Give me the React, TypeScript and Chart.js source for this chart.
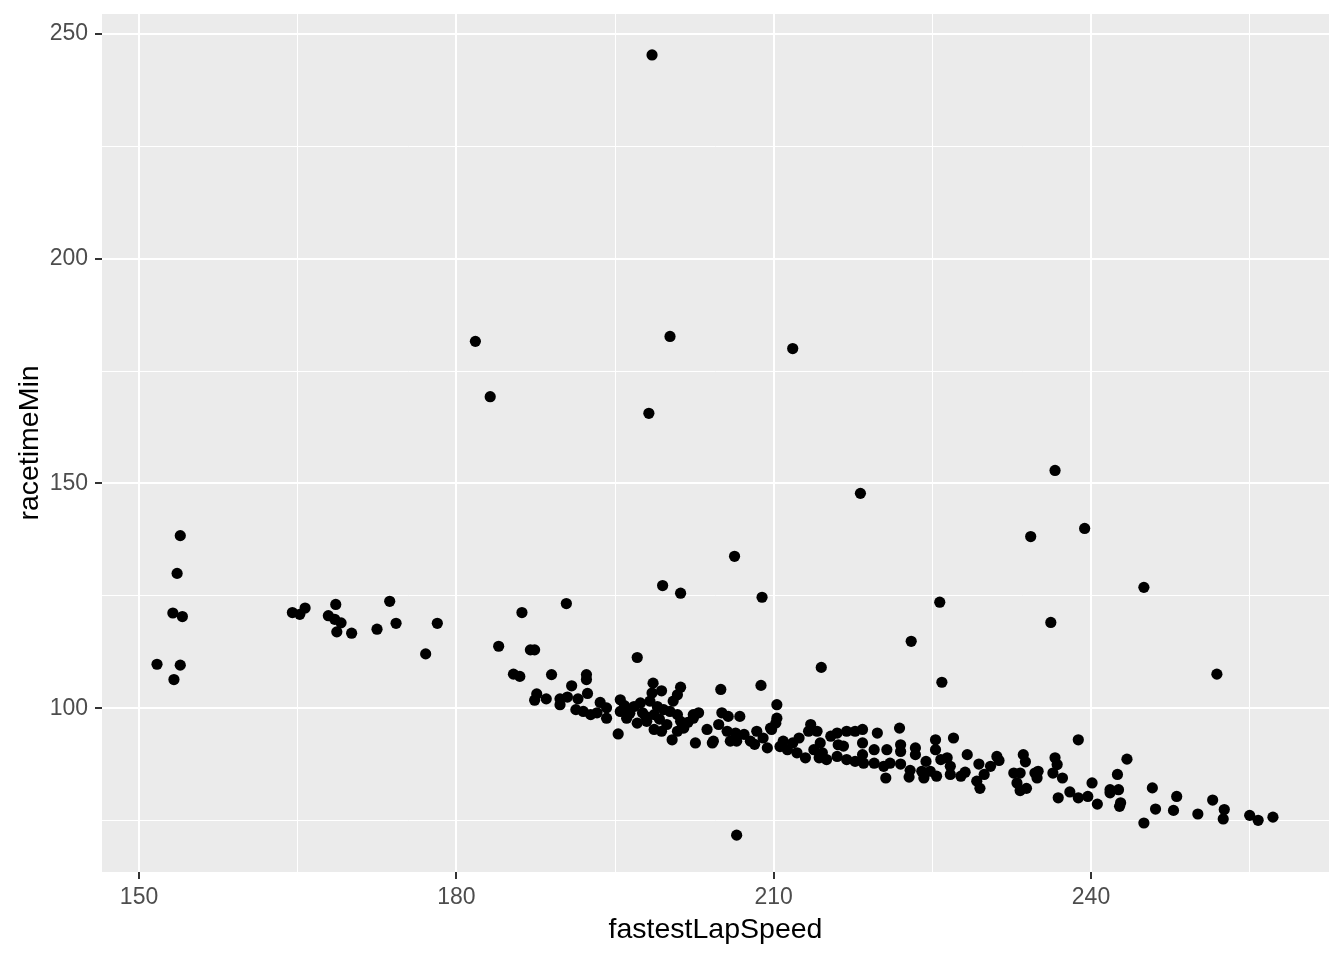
import React, { useEffect, useRef } from "react";
import { Chart, registerables } from "chart.js";

Chart.register(...registerables);

// fastestLapSpeed values
const lapSpeed: number[] = [
  198.5, 181.8, 183.2, 200.2, 198.2, 211.8, 218.2, 236.6, 234.3, 239.4,
  245.0, 251.9, 236.2, 225.7, 223.0, 225.9, 214.5, 206.3, 208.9, 199.5,
  201.2, 208.8, 206.5, 197.1, 190.4, 186.2, 184.0,
  153.9, 153.6, 153.2, 154.1, 151.7, 153.9, 153.3,
  164.5, 165.2, 165.7, 168.6, 167.9, 168.5, 169.1, 168.7, 170.1, 172.5,
  173.7, 174.3, 178.2, 177.1,
  187.0, 187.4, 185.4, 186.0, 189.0, 192.3, 192.3, 190.9, 192.4, 187.6,
  187.4, 188.5, 189.8, 189.8, 190.5, 191.5, 191.3, 192.0, 192.7, 193.6,
  194.2, 194.2, 193.3, 195.5, 195.3, 195.5, 196.1, 196.8, 197.4, 197.6,
  198.0, 197.1, 198.6, 198.5, 199.4, 198.3, 199.0, 198.7, 199.6, 198.7,
  199.4, 200.4, 201.2, 200.9, 200.5, 200.2, 200.9, 201.2, 201.5, 200.9,
  199.9, 196.4, 197.9, 199.2, 201.9, 195.9,
  202.4, 202.9, 203.7, 202.6, 204.3, 205.0, 205.1, 205.7, 206.8, 204.8,
  205.6, 206.4, 207.2, 205.9, 206.5, 207.8, 208.4, 209.0, 209.4, 209.8,
  210.3, 210.3,
  202.4, 210.2, 209.7, 204.2, 210.9, 211.8, 212.4, 211.3, 212.2, 213.0,
  213.5, 213.3, 214.1, 214.4, 213.8, 214.6, 214.3, 215.0, 215.4, 216.0,
  216.1, 216.6, 216.0, 216.9, 217.7, 218.4, 218.4, 216.9, 217.7, 218.4,
  218.5, 219.8, 219.5, 220.7, 219.5, 220.4, 220.6, 208.2, 210.6,
  221.9, 222.0, 222.0, 223.4, 223.4, 225.3, 225.3, 227.0, 221.0, 222.0,
  222.9, 222.8, 224.0, 224.4, 224.2, 224.8, 225.4, 225.8, 226.4, 226.7,
  226.7, 227.7, 228.1, 228.3, 229.4, 229.9, 229.2, 229.5, 230.5, 231.1,
  231.3, 232.7, 233.3, 233.0, 233.3, 233.9, 233.6, 233.8, 234.7, 234.9,
  235.0, 236.6, 236.8, 236.4, 237.3, 236.9, 238.0, 238.8, 238.8,
  243.4, 242.5, 240.1, 239.7, 240.6, 241.8, 241.8, 242.6, 242.8, 242.7,
  245.0, 245.8, 246.1, 247.8, 248.1, 250.1, 251.5, 252.6, 252.5, 255.0,
  255.8, 257.2,
];

// racetimeMin values (same order as lapSpeed)
const raceTimeMin: number[] = [
  245.3, 181.6, 169.3, 182.7, 165.6, 180.0, 147.8, 152.9, 138.2, 140.0,
  126.9, 107.6, 119.1, 123.6, 114.9, 105.8, 109.1, 133.8, 124.7, 127.3,
  125.6, 105.1, 71.8, 111.3, 123.3, 121.3, 113.8,
  138.4, 130.0, 121.2, 120.4, 109.8, 109.6, 106.4,
  121.3, 120.9, 122.3, 123.1, 120.6, 119.8, 119.0, 117.0, 116.7, 117.6,
  123.8, 118.9, 118.9, 112.1,
  113.0, 113.0, 107.6, 107.1, 107.5, 107.5, 106.4, 105.0, 103.3, 103.2,
  101.8, 102.1, 102.1, 100.8, 102.5, 102.1, 99.7, 99.3, 98.6, 101.3,
  100.1, 97.8, 99.0, 101.9, 94.3, 99.3, 97.8, 100.4, 101.2, 99.0,
  97.1, 96.7, 105.6, 103.4, 103.9, 101.6, 100.4, 98.6, 99.7, 95.3,
  94.9, 93.0, 104.7, 103.0, 101.6, 99.3, 98.6, 97.1, 95.6, 94.9,
  96.4, 98.9, 98.2, 97.6, 96.9, 100.6,
  98.6, 99.0, 95.3, 92.3, 92.7, 104.2, 99.0, 98.2, 98.2, 96.4,
  94.9, 94.5, 94.2, 92.7, 92.7, 92.7, 94.9, 93.4, 91.2, 95.3,
  100.8, 97.8,
  97.8, 96.7, 95.6, 92.3, 92.7, 92.3, 93.4, 90.8, 90.1, 89.0,
  96.4, 94.9, 94.9, 92.3, 90.8, 90.1, 89.0, 88.6, 93.8, 94.5,
  91.9, 91.6, 89.3, 94.9, 94.9, 95.3, 92.3, 88.6, 88.2, 89.7,
  87.8, 94.5, 90.8, 90.8, 87.8, 87.1, 84.5, 92.0, 91.5,
  95.6, 91.9, 90.4, 91.2, 89.7, 93.0, 90.8, 93.4, 87.8, 87.6,
  86.2, 84.7, 86.0, 88.2, 84.5, 86.0, 84.9, 88.6, 89.0, 87.1,
  85.3, 84.9, 85.8, 89.7, 87.6, 85.3, 83.8, 82.2, 87.1, 89.3,
  88.4, 85.6, 85.6, 83.4, 81.7, 82.2, 89.7, 88.1, 85.6, 84.5,
  86.0, 89.0, 87.5, 85.6, 84.5, 80.1, 81.4, 93.0, 80.1,
  88.7, 85.3, 83.4, 80.4, 78.7, 81.9, 81.2, 81.9, 79.0, 78.2,
  74.5, 82.3, 77.6, 77.3, 80.4, 76.5, 79.6, 77.5, 75.4, 76.2,
  75.1, 75.8,
];

const xMajorTicks = [150, 180, 210, 240];
const xMinorTicks = [165, 195, 225, 255];
const yMajorTicks = [100, 150, 200, 250];
const yMinorTicks = [75, 125, 175, 225];

const xLabel = "fastestLapSpeed";
const yLabel = "racetimeMin";

const FONT = '"Liberation Sans", Arial, sans-serif';

const panelBg = {
  id: "panelBg",
  beforeDraw(chart: any) {
    const { ctx, chartArea: a } = chart;
    ctx.save();
    ctx.fillStyle = "#EBEBEB";
    ctx.fillRect(a.left, a.top, a.right - a.left, a.bottom - a.top);
    ctx.restore();
  },
};

const zeroPad = (s: any) => {
  s.paddingTop = 0;
  s.paddingBottom = 0;
  s.paddingLeft = 0;
  s.paddingRight = 0;
};

export default function App() {
  const ref = useRef<HTMLCanvasElement | null>(null);

  useEffect(() => {
    if (!ref.current) return;
    const points = lapSpeed.map((x, i) => ({ x, y: raceTimeMin[i] }));
    const xAll = [...xMajorTicks, ...xMinorTicks].sort((a, b) => a - b);
    const yAll = [...yMajorTicks, ...yMinorTicks].sort((a, b) => a - b);
    const isXMajor = (v: number) => xMajorTicks.includes(v);
    const isYMajor = (v: number) => yMajorTicks.includes(v);

    const chart = new Chart(ref.current, {
      type: "scatter",
      data: {
        datasets: [
          {
            data: points,
            backgroundColor: "#000000",
            borderWidth: 0,
            pointRadius: 5.6,
            pointHoverRadius: 5.6,
          },
        ],
      },
      plugins: [panelBg],
      options: {
        responsive: false,
        animation: false,
        layout: { padding: { top: 14, right: 15, left: 0, bottom: 0 } },
        plugins: { legend: { display: false }, tooltip: { enabled: false } },
        scales: {
          x: {
            type: "linear",
            min: 146.5,
            max: 262.5,
            afterBuildTicks: (s: any) => {
              s.ticks = xAll.map((v) => ({ value: v }));
            },
            afterFit: (s: any) => {
              s.height = 88;
              zeroPad(s);
            },
            ticks: {
              autoSkip: false,
              maxRotation: 0,
              padding: 5,
              color: "#4D4D4D",
              font: { family: FONT, size: 23 },
              callback: (v: any) => (isXMajor(Number(v)) ? String(v) : ""),
            },
            grid: {
              color: "#FFFFFF",
              lineWidth: (c: any) => (c.tick && isXMajor(c.tick.value) ? 2 : 1),
              tickColor: (c: any) =>
                c.tick && isXMajor(c.tick.value) ? "#333333" : "rgba(0,0,0,0)",
              tickLength: 7,
              tickWidth: 2,
            },
            border: { display: false },
            title: {
              display: true,
              text: xLabel,
              color: "#000000",
              font: { family: FONT, size: 28.5 },
              padding: { top: 0, bottom: 13 },
            },
          },
          y: {
            type: "linear",
            min: 63.6,
            max: 254.4,
            afterBuildTicks: (s: any) => {
              s.ticks = yAll.map((v) => ({ value: v }));
            },
            afterFit: (s: any) => {
              s.width = 102;
              zeroPad(s);
            },
            ticks: {
              autoSkip: false,
              padding: 7,
              color: "#4D4D4D",
              font: { family: FONT, size: 23 },
              callback: (v: any) => (isYMajor(Number(v)) ? String(v) : ""),
            },
            grid: {
              color: "#FFFFFF",
              lineWidth: (c: any) => (c.tick && isYMajor(c.tick.value) ? 2 : 1),
              tickColor: (c: any) =>
                c.tick && isYMajor(c.tick.value) ? "#333333" : "rgba(0,0,0,0)",
              tickLength: 7,
              tickWidth: 2,
            },
            border: { display: false },
            title: {
              display: true,
              text: yLabel,
              color: "#000000",
              font: { family: FONT, size: 28.5 },
              padding: { top: 13, bottom: 0 },
            },
          },
        },
      },
    } as any);
    return () => chart.destroy();
  }, []);

  return (
    <div
      style={{
        position: "fixed",
        left: 0,
        top: 0,
        width: 1344,
        height: 960,
        background: "#FFFFFF",
      }}
    >
      <canvas ref={ref} width={1344} height={960} style={{ display: "block" }} />
    </div>
  );
}
